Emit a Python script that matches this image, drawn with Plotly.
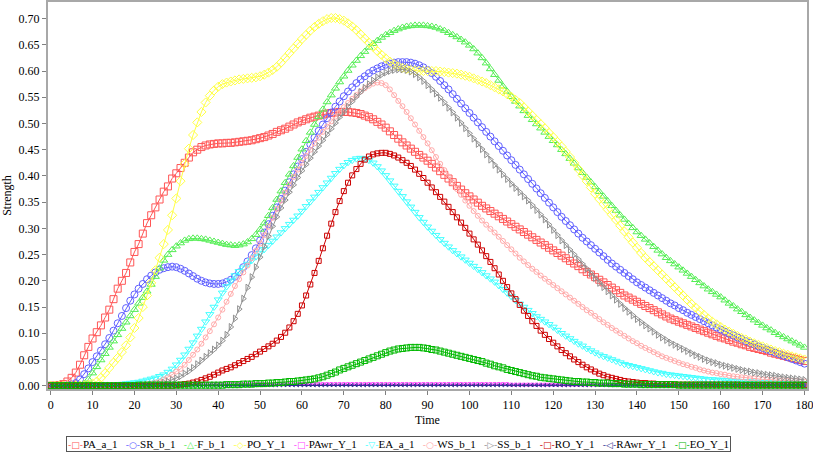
import plotly.graph_objects as go

time = list(range(0, 181))

PA_a_1 = [
    0.000, 0.000, 0.001, 0.003, 0.008, 0.015, 0.025, 0.040, 0.058, 0.074,
    0.090, 0.102, 0.115, 0.130, 0.145, 0.165, 0.185, 0.200, 0.215, 0.235,
    0.255, 0.270, 0.290, 0.310, 0.325, 0.340, 0.355, 0.370, 0.380, 0.395,
    0.405, 0.415, 0.425, 0.435, 0.445, 0.450, 0.455, 0.458, 0.460, 0.461,
    0.462, 0.462, 0.463, 0.463, 0.464, 0.465, 0.466, 0.467, 0.468, 0.470,
    0.472, 0.474, 0.477, 0.480, 0.484, 0.487, 0.490, 0.494, 0.498, 0.502,
    0.505, 0.508, 0.511, 0.513, 0.515, 0.517, 0.519, 0.520, 0.521, 0.522,
    0.522, 0.522, 0.521, 0.520, 0.518, 0.515, 0.512, 0.508, 0.503, 0.498,
    0.492, 0.485, 0.478, 0.471, 0.464, 0.458, 0.452, 0.446, 0.440, 0.435,
    0.429, 0.423, 0.416, 0.409, 0.402, 0.395, 0.388, 0.381, 0.374, 0.367,
    0.361, 0.355, 0.349, 0.343, 0.338, 0.333, 0.328, 0.323, 0.318, 0.313,
    0.308, 0.303, 0.298, 0.293, 0.288, 0.283, 0.278, 0.273, 0.268, 0.263,
    0.258, 0.253, 0.248, 0.243, 0.238, 0.233, 0.228, 0.222, 0.217, 0.212,
    0.207, 0.202, 0.197, 0.192, 0.187, 0.182, 0.177, 0.172, 0.168, 0.164,
    0.160, 0.156, 0.152, 0.148, 0.144, 0.140, 0.136, 0.132, 0.128, 0.125,
    0.122, 0.119, 0.116, 0.113, 0.110, 0.107, 0.104, 0.101, 0.098, 0.095,
    0.092, 0.090, 0.087, 0.084, 0.082, 0.079, 0.077, 0.074, 0.072, 0.070,
    0.068, 0.066, 0.063, 0.061, 0.059, 0.057, 0.055, 0.053, 0.051, 0.049,
    0.047,
]

SR_b_1 = [
    0.000, 0.000, 0.000, 0.000, 0.001, 0.002, 0.005, 0.012, 0.022, 0.033,
    0.045, 0.056, 0.067, 0.079, 0.091, 0.105, 0.119, 0.133, 0.148, 0.162,
    0.174, 0.185, 0.194, 0.203, 0.210, 0.216, 0.221, 0.224, 0.226, 0.227,
    0.226, 0.223, 0.219, 0.214, 0.209, 0.204, 0.200, 0.197, 0.195, 0.194,
    0.194, 0.195, 0.198, 0.202, 0.208, 0.216, 0.226, 0.237, 0.249, 0.262,
    0.277, 0.292, 0.308, 0.324, 0.340, 0.356, 0.372, 0.388, 0.403, 0.418,
    0.432, 0.446, 0.460, 0.473, 0.486, 0.498, 0.510, 0.521, 0.532, 0.542,
    0.552, 0.561, 0.569, 0.577, 0.584, 0.590, 0.596, 0.601, 0.605, 0.609,
    0.612, 0.614, 0.616, 0.617, 0.617, 0.617, 0.616, 0.614, 0.611, 0.607,
    0.602, 0.596, 0.589, 0.581, 0.573, 0.565, 0.556, 0.547, 0.538, 0.529,
    0.520, 0.511, 0.502, 0.493, 0.484, 0.475, 0.466, 0.457, 0.448, 0.439,
    0.430, 0.421, 0.412, 0.403, 0.394, 0.385, 0.376, 0.367, 0.358, 0.349,
    0.340, 0.331, 0.322, 0.314, 0.306, 0.298, 0.290, 0.282, 0.275, 0.268,
    0.261, 0.254, 0.247, 0.240, 0.233, 0.227, 0.221, 0.215, 0.209, 0.203,
    0.197, 0.192, 0.187, 0.182, 0.177, 0.172, 0.167, 0.162, 0.157, 0.153,
    0.148, 0.144, 0.139, 0.135, 0.131, 0.127, 0.123, 0.119, 0.115, 0.111,
    0.107, 0.103, 0.099, 0.096, 0.092, 0.089, 0.085, 0.082, 0.079, 0.075,
    0.072, 0.069, 0.066, 0.063, 0.060, 0.057, 0.054, 0.051, 0.048, 0.045,
    0.042,
]

F_b_1 = [
    0.000, 0.000, 0.000, 0.000, 0.000, 0.000, 0.001, 0.002, 0.004, 0.012,
    0.024, 0.036, 0.049, 0.061, 0.073, 0.085, 0.097, 0.109, 0.121, 0.133,
    0.145, 0.157, 0.168, 0.180, 0.193, 0.208, 0.224, 0.239, 0.250, 0.259,
    0.266, 0.272, 0.277, 0.280, 0.281, 0.281, 0.280, 0.279, 0.277, 0.275,
    0.273, 0.271, 0.269, 0.268, 0.267, 0.268, 0.270, 0.274, 0.280, 0.288,
    0.298, 0.310, 0.324, 0.339, 0.355, 0.371, 0.387, 0.403, 0.419, 0.435,
    0.451, 0.467, 0.483, 0.498, 0.513, 0.527, 0.541, 0.554, 0.567, 0.579,
    0.590, 0.601, 0.611, 0.620, 0.629, 0.637, 0.645, 0.652, 0.658, 0.664,
    0.669, 0.673, 0.677, 0.680, 0.683, 0.685, 0.686, 0.687, 0.687, 0.687,
    0.686, 0.685, 0.683, 0.680, 0.677, 0.673, 0.669, 0.665, 0.660, 0.655,
    0.649, 0.642, 0.634, 0.625, 0.615, 0.604, 0.593, 0.582, 0.571, 0.561,
    0.551, 0.542, 0.533, 0.524, 0.515, 0.507, 0.499, 0.491, 0.483, 0.475,
    0.467, 0.459, 0.450, 0.442, 0.433, 0.424, 0.415, 0.406, 0.397, 0.388,
    0.379, 0.370, 0.361, 0.352, 0.343, 0.334, 0.325, 0.317, 0.309, 0.301,
    0.293, 0.286, 0.279, 0.272, 0.265, 0.258, 0.251, 0.244, 0.238, 0.232,
    0.226, 0.220, 0.214, 0.208, 0.202, 0.196, 0.190, 0.184, 0.179, 0.174,
    0.169, 0.163, 0.157, 0.152, 0.146, 0.141, 0.135, 0.130, 0.125, 0.120,
    0.115, 0.110, 0.106, 0.101, 0.097, 0.093, 0.089, 0.085, 0.081, 0.077,
    0.073,
]

PO_Y_1 = [
    0.000, 0.000, 0.000, 0.000, 0.000, 0.000, 0.000, 0.000, 0.001, 0.002,
    0.004, 0.008, 0.015, 0.024, 0.034, 0.044, 0.053, 0.064, 0.077, 0.092,
    0.110, 0.129, 0.150, 0.172, 0.196, 0.220, 0.244, 0.270, 0.297, 0.325,
    0.357, 0.390, 0.423, 0.452, 0.478, 0.502, 0.522, 0.540, 0.553, 0.563,
    0.570, 0.575, 0.578, 0.580, 0.582, 0.584, 0.585, 0.586, 0.587, 0.588,
    0.590, 0.593, 0.597, 0.602, 0.608, 0.616, 0.625, 0.634, 0.643, 0.652,
    0.661, 0.669, 0.677, 0.684, 0.690, 0.695, 0.699, 0.701, 0.701, 0.699,
    0.696, 0.691, 0.685, 0.678, 0.670, 0.662, 0.654, 0.646, 0.638, 0.631,
    0.624, 0.618, 0.613, 0.609, 0.606, 0.604, 0.602, 0.601, 0.600, 0.600,
    0.600, 0.600, 0.600, 0.599, 0.598, 0.597, 0.596, 0.595, 0.593, 0.591,
    0.589, 0.586, 0.583, 0.580, 0.577, 0.573, 0.569, 0.565, 0.561, 0.556,
    0.551, 0.545, 0.539, 0.531, 0.523, 0.515, 0.507, 0.499, 0.491, 0.482,
    0.474, 0.465, 0.456, 0.446, 0.436, 0.425, 0.413, 0.401, 0.390, 0.378,
    0.366, 0.356, 0.346, 0.336, 0.326, 0.316, 0.305, 0.294, 0.283, 0.273,
    0.263, 0.253, 0.244, 0.236, 0.228, 0.220, 0.212, 0.204, 0.196, 0.188,
    0.180, 0.172, 0.164, 0.156, 0.149, 0.142, 0.135, 0.128, 0.122, 0.117,
    0.112, 0.107, 0.103, 0.099, 0.095, 0.091, 0.088, 0.084, 0.081, 0.078,
    0.075, 0.072, 0.069, 0.066, 0.064, 0.061, 0.059, 0.056, 0.054, 0.052,
    0.050,
]

PAwr_Y_1 = [
    0.000, 0.000, 0.000, 0.000, 0.000, 0.000, 0.000, 0.000, 0.001, 0.001,
    0.001, 0.001, 0.001, 0.001, 0.001, 0.001, 0.002, 0.002, 0.002, 0.002,
    0.002, 0.002, 0.002, 0.002, 0.002, 0.002, 0.002, 0.002, 0.002, 0.002,
    0.003, 0.003, 0.003, 0.003, 0.003, 0.003, 0.003, 0.003, 0.003, 0.003,
    0.003, 0.003, 0.003, 0.003, 0.003, 0.003, 0.003, 0.003, 0.003, 0.003,
    0.003, 0.003, 0.003, 0.003, 0.003, 0.003, 0.003, 0.003, 0.003, 0.003,
    0.003, 0.003, 0.003, 0.003, 0.003, 0.003, 0.003, 0.003, 0.003, 0.003,
    0.003, 0.003, 0.003, 0.003, 0.003, 0.003, 0.003, 0.003, 0.003, 0.003,
    0.003, 0.003, 0.003, 0.003, 0.003, 0.003, 0.003, 0.003, 0.003, 0.003,
    0.003, 0.003, 0.003, 0.003, 0.003, 0.003, 0.003, 0.003, 0.003, 0.003,
    0.003, 0.003, 0.003, 0.003, 0.003, 0.003, 0.003, 0.003, 0.003, 0.003,
    0.002, 0.002, 0.002, 0.002, 0.002, 0.002, 0.002, 0.002, 0.002, 0.002,
    0.002, 0.002, 0.002, 0.002, 0.002, 0.002, 0.002, 0.002, 0.002, 0.002,
    0.002, 0.002, 0.002, 0.002, 0.002, 0.002, 0.002, 0.002, 0.002, 0.002,
    0.002, 0.002, 0.002, 0.002, 0.002, 0.002, 0.002, 0.002, 0.002, 0.002,
    0.002, 0.002, 0.002, 0.002, 0.002, 0.002, 0.002, 0.002, 0.002, 0.002,
    0.002, 0.002, 0.002, 0.002, 0.002, 0.002, 0.002, 0.002, 0.002, 0.002,
    0.001, 0.001, 0.001, 0.001, 0.001, 0.001, 0.001, 0.001, 0.001, 0.001,
    0.001,
]

EA_a_1 = [
    0.000, 0.000, 0.000, 0.000, 0.000, 0.000, 0.000, 0.000, 0.000, 0.000,
    0.000, 0.000, 0.000, 0.000, 0.000, 0.001, 0.002, 0.003, 0.004, 0.005,
    0.006, 0.007, 0.009, 0.011, 0.013, 0.015, 0.018, 0.021, 0.026, 0.032,
    0.040, 0.049, 0.059, 0.070, 0.082, 0.095, 0.108, 0.122, 0.136, 0.150,
    0.164, 0.177, 0.189, 0.200, 0.210, 0.218, 0.225, 0.232, 0.239, 0.246,
    0.253, 0.260, 0.268, 0.276, 0.284, 0.292, 0.300, 0.308, 0.316, 0.324,
    0.333, 0.342, 0.351, 0.360, 0.369, 0.378, 0.387, 0.396, 0.405, 0.413,
    0.420, 0.426, 0.430, 0.433, 0.434, 0.433, 0.430, 0.425, 0.418, 0.410,
    0.401, 0.391, 0.381, 0.371, 0.361, 0.351, 0.341, 0.331, 0.321, 0.312,
    0.303, 0.295, 0.287, 0.279, 0.272, 0.265, 0.258, 0.252, 0.246, 0.240,
    0.234, 0.228, 0.222, 0.216, 0.210, 0.204, 0.198, 0.191, 0.184, 0.177,
    0.170, 0.163, 0.156, 0.150, 0.144, 0.138, 0.132, 0.127, 0.122, 0.117,
    0.112, 0.106, 0.100, 0.095, 0.090, 0.085, 0.080, 0.076, 0.071, 0.067,
    0.063, 0.059, 0.056, 0.053, 0.050, 0.047, 0.044, 0.041, 0.039, 0.037,
    0.035, 0.033, 0.031, 0.029, 0.027, 0.025, 0.024, 0.022, 0.021, 0.020,
    0.019, 0.018, 0.017, 0.016, 0.015, 0.014, 0.013, 0.012, 0.012, 0.011,
    0.011, 0.010, 0.010, 0.009, 0.009, 0.008, 0.008, 0.008, 0.007, 0.007,
    0.007, 0.006, 0.006, 0.006, 0.006, 0.005, 0.005, 0.005, 0.005, 0.004,
    0.004,
]

WS_b_1 = [
    0.000, 0.000, 0.000, 0.000, 0.000, 0.000, 0.000, 0.000, 0.000, 0.000,
    0.000, 0.000, 0.000, 0.000, 0.000, 0.000, 0.000, 0.000, 0.000, 0.000,
    0.000, 0.001, 0.002, 0.003, 0.004, 0.006, 0.008, 0.012, 0.016, 0.021,
    0.027, 0.032, 0.040, 0.049, 0.059, 0.069, 0.080, 0.092, 0.104, 0.117,
    0.130, 0.145, 0.160, 0.175, 0.190, 0.203, 0.216, 0.229, 0.243, 0.257,
    0.271, 0.287, 0.303, 0.320, 0.337, 0.353, 0.368, 0.383, 0.398, 0.412,
    0.425, 0.438, 0.450, 0.462, 0.473, 0.484, 0.494, 0.504, 0.513, 0.522,
    0.531, 0.539, 0.547, 0.554, 0.561, 0.567, 0.572, 0.576, 0.578, 0.577,
    0.573, 0.565, 0.554, 0.543, 0.533, 0.522, 0.510, 0.498, 0.486, 0.474,
    0.462, 0.449, 0.436, 0.423, 0.411, 0.399, 0.387, 0.375, 0.364, 0.353,
    0.343, 0.333, 0.324, 0.315, 0.307, 0.299, 0.292, 0.284, 0.276, 0.268,
    0.260, 0.252, 0.244, 0.237, 0.230, 0.223, 0.217, 0.210, 0.204, 0.198,
    0.192, 0.186, 0.180, 0.174, 0.168, 0.162, 0.156, 0.150, 0.144, 0.139,
    0.133, 0.127, 0.121, 0.116, 0.110, 0.105, 0.100, 0.095, 0.090, 0.085,
    0.081, 0.076, 0.072, 0.068, 0.064, 0.060, 0.056, 0.053, 0.050, 0.047,
    0.044, 0.041, 0.039, 0.036, 0.034, 0.031, 0.029, 0.027, 0.025, 0.024,
    0.022, 0.021, 0.019, 0.018, 0.017, 0.016, 0.015, 0.014, 0.014, 0.013,
    0.012, 0.012, 0.011, 0.011, 0.010, 0.010, 0.009, 0.009, 0.009, 0.008,
    0.008,
]

SS_b_1 = [
    0.000, 0.000, 0.000, 0.000, 0.000, 0.000, 0.000, 0.000, 0.000, 0.000,
    0.000, 0.000, 0.000, 0.000, 0.000, 0.000, 0.000, 0.000, 0.000, 0.000,
    0.000, 0.000, 0.000, 0.001, 0.002, 0.003, 0.004, 0.006, 0.008, 0.011,
    0.014, 0.018, 0.023, 0.028, 0.034, 0.041, 0.048, 0.055, 0.062, 0.069,
    0.077, 0.086, 0.097, 0.112, 0.128, 0.146, 0.166, 0.187, 0.207, 0.226,
    0.245, 0.265, 0.285, 0.304, 0.322, 0.339, 0.354, 0.369, 0.383, 0.397,
    0.410, 0.422, 0.434, 0.446, 0.457, 0.468, 0.479, 0.490, 0.501, 0.512,
    0.522, 0.532, 0.542, 0.551, 0.560, 0.568, 0.575, 0.582, 0.588, 0.593,
    0.597, 0.600, 0.602, 0.603, 0.603, 0.602, 0.599, 0.594, 0.588, 0.581,
    0.573, 0.565, 0.557, 0.549, 0.540, 0.530, 0.521, 0.511, 0.501, 0.491,
    0.481, 0.471, 0.461, 0.451, 0.441, 0.431, 0.421, 0.412, 0.403, 0.394,
    0.385, 0.377, 0.369, 0.361, 0.353, 0.344, 0.335, 0.326, 0.317, 0.307,
    0.297, 0.287, 0.277, 0.268, 0.259, 0.250, 0.241, 0.232, 0.223, 0.214,
    0.205, 0.196, 0.188, 0.180, 0.172, 0.164, 0.156, 0.148, 0.141, 0.134,
    0.127, 0.121, 0.115, 0.109, 0.103, 0.097, 0.092, 0.087, 0.082, 0.078,
    0.074, 0.070, 0.066, 0.062, 0.058, 0.055, 0.051, 0.048, 0.045, 0.043,
    0.040, 0.038, 0.036, 0.034, 0.032, 0.030, 0.028, 0.027, 0.025, 0.024,
    0.022, 0.021, 0.020, 0.019, 0.017, 0.016, 0.015, 0.014, 0.013, 0.012,
    0.011,
]

RO_Y_1 = [
    0.000, 0.000, 0.000, 0.000, 0.000, 0.000, 0.000, 0.000, 0.000, 0.000,
    0.000, 0.000, 0.000, 0.000, 0.000, 0.000, 0.000, 0.000, 0.000, 0.000,
    0.000, 0.000, 0.000, 0.000, 0.000, 0.000, 0.000, 0.000, 0.000, 0.000,
    0.001, 0.002, 0.003, 0.004, 0.006, 0.008, 0.011, 0.014, 0.017, 0.021,
    0.025, 0.029, 0.032, 0.035, 0.039, 0.043, 0.047, 0.051, 0.055, 0.060,
    0.065, 0.070, 0.075, 0.080, 0.086, 0.093, 0.101, 0.111, 0.123, 0.137,
    0.153, 0.172, 0.193, 0.215, 0.238, 0.262, 0.286, 0.309, 0.331, 0.352,
    0.371, 0.387, 0.401, 0.413, 0.423, 0.431, 0.437, 0.441, 0.443, 0.444,
    0.444, 0.442, 0.439, 0.435, 0.430, 0.425, 0.419, 0.412, 0.404, 0.396,
    0.387, 0.378, 0.369, 0.360, 0.351, 0.341, 0.331, 0.321, 0.311, 0.301,
    0.290, 0.279, 0.269, 0.258, 0.247, 0.236, 0.224, 0.212, 0.200, 0.188,
    0.176, 0.165, 0.154, 0.143, 0.133, 0.123, 0.114, 0.105, 0.097, 0.089,
    0.082, 0.075, 0.068, 0.062, 0.056, 0.050, 0.045, 0.040, 0.035, 0.031,
    0.027, 0.023, 0.020, 0.017, 0.015, 0.013, 0.011, 0.009, 0.008, 0.007,
    0.006, 0.005, 0.005, 0.004, 0.004, 0.003, 0.003, 0.003, 0.003, 0.002,
    0.002, 0.002, 0.002, 0.002, 0.002, 0.002, 0.002, 0.002, 0.002, 0.002,
    0.002, 0.002, 0.002, 0.002, 0.002, 0.001, 0.001, 0.001, 0.001, 0.001,
    0.001, 0.001, 0.001, 0.001, 0.001, 0.001, 0.001, 0.001, 0.001, 0.001,
    0.001,
]

RAwr_Y_1 = [
    0.000, 0.000, 0.000, 0.000, 0.000, 0.000, 0.000, 0.000, 0.000, 0.000,
    0.001, 0.001, 0.001, 0.001, 0.001, 0.001, 0.001, 0.001, 0.001, 0.001,
    0.001, 0.001, 0.001, 0.001, 0.001, 0.001, 0.001, 0.001, 0.001, 0.001,
    0.001, 0.001, 0.001, 0.001, 0.001, 0.001, 0.001, 0.001, 0.001, 0.001,
    0.001, 0.001, 0.001, 0.001, 0.001, 0.001, 0.001, 0.001, 0.001, 0.001,
    0.001, 0.001, 0.001, 0.001, 0.001, 0.001, 0.001, 0.001, 0.001, 0.001,
    0.001, 0.001, 0.001, 0.001, 0.001, 0.001, 0.001, 0.001, 0.001, 0.001,
    0.001, 0.001, 0.001, 0.001, 0.001, 0.001, 0.001, 0.001, 0.001, 0.001,
    0.001, 0.001, 0.001, 0.001, 0.001, 0.001, 0.001, 0.001, 0.001, 0.001,
    0.001, 0.001, 0.001, 0.001, 0.001, 0.001, 0.001, 0.001, 0.001, 0.001,
    0.001, 0.001, 0.001, 0.001, 0.001, 0.001, 0.001, 0.001, 0.001, 0.001,
    0.001, 0.001, 0.001, 0.001, 0.001, 0.001, 0.001, 0.001, 0.001, 0.001,
    0.001, 0.001, 0.001, 0.001, 0.001, 0.001, 0.001, 0.001, 0.001, 0.001,
    0.001, 0.001, 0.001, 0.001, 0.001, 0.001, 0.001, 0.001, 0.001, 0.001,
    0.001, 0.001, 0.001, 0.001, 0.001, 0.001, 0.001, 0.001, 0.001, 0.001,
    0.001, 0.001, 0.001, 0.001, 0.001, 0.001, 0.001, 0.001, 0.001, 0.001,
    0.001, 0.001, 0.001, 0.001, 0.001, 0.001, 0.001, 0.001, 0.001, 0.001,
    0.001, 0.001, 0.001, 0.001, 0.001, 0.001, 0.001, 0.001, 0.001, 0.001,
    0.001,
]

EO_Y_1 = [
    0.000, 0.000, 0.000, 0.000, 0.000, 0.000, 0.000, 0.000, 0.000, 0.000,
    0.000, 0.000, 0.000, 0.000, 0.000, 0.000, 0.000, 0.000, 0.000, 0.000,
    0.000, 0.001, 0.001, 0.001, 0.001, 0.001, 0.001, 0.001, 0.001, 0.001,
    0.001, 0.001, 0.001, 0.001, 0.001, 0.001, 0.001, 0.001, 0.001, 0.001,
    0.001, 0.001, 0.002, 0.002, 0.002, 0.002, 0.003, 0.003, 0.003, 0.004,
    0.004, 0.004, 0.005, 0.005, 0.006, 0.006, 0.007, 0.008, 0.008, 0.009,
    0.010, 0.011, 0.012, 0.013, 0.015, 0.017, 0.020, 0.023, 0.026, 0.030,
    0.033, 0.036, 0.039, 0.042, 0.045, 0.048, 0.051, 0.054, 0.057, 0.060,
    0.063, 0.066, 0.068, 0.070, 0.071, 0.072, 0.073, 0.073, 0.073, 0.072,
    0.071, 0.069, 0.068, 0.066, 0.064, 0.062, 0.060, 0.058, 0.056, 0.054,
    0.052, 0.050, 0.048, 0.046, 0.043, 0.041, 0.038, 0.036, 0.034, 0.031,
    0.029, 0.027, 0.025, 0.023, 0.021, 0.019, 0.018, 0.016, 0.015, 0.014,
    0.013, 0.012, 0.011, 0.010, 0.009, 0.008, 0.008, 0.007, 0.007, 0.006,
    0.006, 0.005, 0.005, 0.005, 0.004, 0.004, 0.004, 0.003, 0.003, 0.003,
    0.003, 0.002, 0.002, 0.002, 0.002, 0.002, 0.002, 0.002, 0.002, 0.002,
    0.001, 0.001, 0.001, 0.001, 0.001, 0.001, 0.001, 0.001, 0.001, 0.001,
    0.001, 0.001, 0.001, 0.001, 0.001, 0.001, 0.001, 0.001, 0.001, 0.001,
    0.001, 0.001, 0.001, 0.001, 0.001, 0.001, 0.001, 0.001, 0.001, 0.001,
    0.001,
]

series_names = ["PA_a_1", "SR_b_1", "F_b_1", "PO_Y_1", "PAwr_Y_1", "EA_a_1",
                "WS_b_1", "SS_b_1", "RO_Y_1", "RAwr_Y_1", "EO_Y_1"]
series_values = [PA_a_1, SR_b_1, F_b_1, PO_Y_1, PAwr_Y_1, EA_a_1,
                 WS_b_1, SS_b_1, RO_Y_1, RAwr_Y_1, EO_Y_1]
series_colors = ["#FF5555", "#6060FF", "#55EE55", "#FFFF44", "#FF44FF", "#44FFFF",
                 "#FFAAAA", "#909090", "#CC0000", "#303090", "#00B800"]
series_symbols = ["square-open", "circle-open", "triangle-up-open", "diamond-open",
                  "square-open", "triangle-down-open", "circle-open",
                  "triangle-right-open", "square-open", "triangle-left-open", "square-open"]
series_sizes = [7, 7, 7, 7, 3, 7, 5, 6, 5, 3, 6]
legend_glyphs = ["□", "○", "△", "◇", "□", "▽", "○", "▷", "□", "◁", "□"]

y_ticks = [0.00, 0.05, 0.10, 0.15, 0.20, 0.25, 0.30, 0.35, 0.40, 0.45, 0.50, 0.55, 0.60, 0.65, 0.70]
x_ticks = list(range(0, 181, 10))

for n, v in zip(series_names, series_values):
    if len(v) != len(time):
        raise ValueError(f"{n} has {len(v)} values")

SERIF = "Liberation Serif, Times New Roman, serif"

fig = go.Figure()
for n, v, c, s, sz in zip(series_names, series_values, series_colors, series_symbols, series_sizes):
    fig.add_trace(go.Scatter(
        x=time, y=v, name=n, mode="lines+markers",
        line=dict(color=c, width=1),
        marker=dict(symbol=s, size=sz, color=c, line=dict(color=c, width=1)),
        showlegend=False, cliponaxis=True,
    ))

legend_parts = []
for n, c, g in zip(series_names, series_colors, legend_glyphs):
    legend_parts.append(
        f'<span style="color:{c};font-family:DejaVu Sans;font-size:9px">-{g}-</span>'
        f'<span style="font-size:11px">{n}</span>'
    )
legend_text = "&nbsp;&nbsp;&nbsp;".join(legend_parts)

fig.add_annotation(
    xref="paper", yref="paper", x=0.462, y=-0.121, xanchor="center", yanchor="top",
    text=legend_text, showarrow=False,
    font=dict(family=SERIF, size=11, color="#000000"),
    bordercolor="#555555", borderwidth=1, borderpad=1, bgcolor="white",
)

fig.update_layout(
    width=813, height=455,
    margin=dict(l=48, r=6, t=2, b=66, autoexpand=False),
    paper_bgcolor="white", plot_bgcolor="white",
    showlegend=False,
    font=dict(family=SERIF, size=12, color="#000000"),
)
fig.update_xaxes(
    range=[-0.64, 180.6], tickvals=x_ticks, ticktext=[str(t) for t in x_ticks],
    showgrid=False, zeroline=False, automargin=False, ticklabeloverflow="allow",
    showline=True, linecolor="#A8A8A8", linewidth=2, mirror=True,
    ticks="outside", ticklen=4, tickcolor="#808080",
    tickfont=dict(family=SERIF, size=12),
    title=dict(text="Time", font=dict(family=SERIF, size=12), standoff=4),
)
fig.update_yaxes(
    range=[-0.0063, 0.7316], tickvals=y_ticks, ticktext=[f"{t:.2f}" for t in y_ticks],
    showgrid=False, zeroline=False, automargin=False, ticklabeloverflow="allow",
    showline=True, linecolor="#A8A8A8", linewidth=2, mirror=True,
    ticks="outside", ticklen=4, tickcolor="#808080",
    tickfont=dict(family=SERIF, size=12),
    title=dict(text="Strength", font=dict(family=SERIF, size=12), standoff=4),
)

fig.write_html("out.html", config={"displayModeBar": False, "responsive": False})

# remove the default page margin so the figure sits at the window's top-left corner
with open("out.html", "r", encoding="utf-8") as fh:
    page = fh.read()
page = page.replace("<head>", "<head><style>html,body{margin:0;padding:0;overflow:hidden;}</style>", 1)
with open("out.html", "w", encoding="utf-8") as fh:
    fh.write(page)
